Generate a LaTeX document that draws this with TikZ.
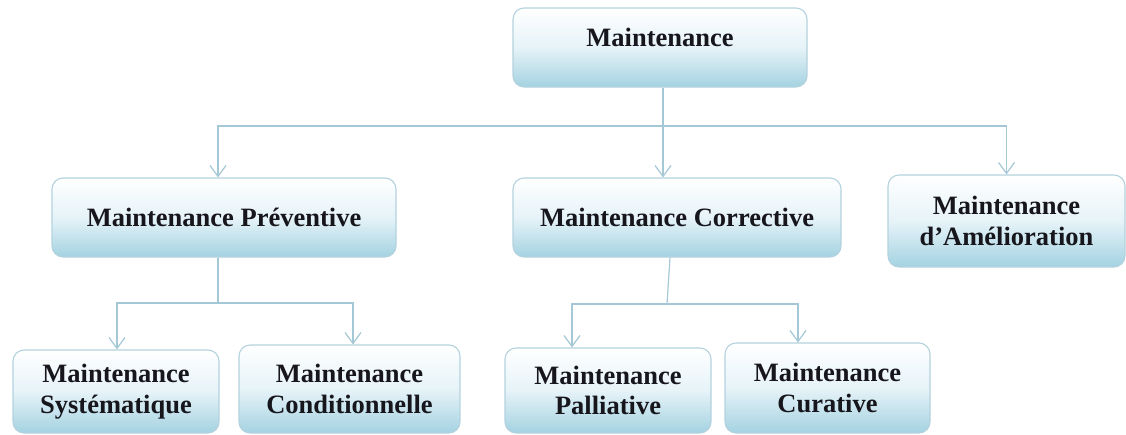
\documentclass[tikz,border=0pt]{standalone}
\usepackage{fontspec}
\setmainfont{Liberation Serif}
\usetikzlibrary{arrows.meta}
\definecolor{boxblue}{RGB}{164,210,225}
\definecolor{boxmid}{RGB}{230,243,248}
\definecolor{boxline}{RGB}{180,210,222}
\definecolor{linkc}{RGB}{165,200,214}
\definecolor{txt}{RGB}{22,22,28}
\begin{document}
\begin{tikzpicture}[x=1pt,y=-1pt,
  box/.style={draw=boxline, line width=1.1pt, rounded corners=11pt,
    top color=white, bottom color=boxblue, middle color=boxmid,
    inner sep=0pt, align=center, text=txt,
    font=\fontsize{26.5}{30.5}\selectfont\bfseries},
  link/.style={draw=linkc, line width=1.2pt},
  arr/.style={link, -{Straight Barb[length=11pt,width=16pt,line width=1.2pt]}}]
\useasboundingbox (0,0) rectangle (1126,434);
% nodes
\node[box, minimum width=294pt, minimum height=79pt, text depth=20pt] (m) at (660,47.5) {Maintenance};
\node[box, minimum width=344pt, minimum height=79pt] (p) at (224,217.5) {Maintenance Préventive};
\node[box, minimum width=328pt, minimum height=79pt] (c) at (677,217.5) {Maintenance Corrective};
\node[box, minimum width=237pt, minimum height=92pt] (a) at (1006.5,221) {Maintenance\\d’Amélioration};
\node[box, minimum width=206pt, minimum height=83pt] (s) at (116,391.5) {Maintenance\\Systématique};
\node[box, minimum width=221pt, minimum height=88pt] (cd) at (349.5,389) {Maintenance\\Conditionnelle};
\node[box, minimum width=206pt, minimum height=85pt] (pa) at (608,390.5) {Maintenance\\Palliative};
\node[box, minimum width=205pt, minimum height=90pt] (cu) at (827.5,388) {Maintenance\\Curative};
% junction coordinates
\coordinate (j0) at (663,126);
\coordinate (j1) at (218,303);
\coordinate (j2) at (667,304);
% level 1
\draw[link] (m.south -| j0) -- (j0);
\draw[arr] (j0) -| (p.north -| j1);
\draw[arr] (j0) -- (c.north -| j0);
\draw[arr] (j0) -| (a.north);
% preventive children
\draw[link] (p.south -| j1) -- (j1);
\draw[arr] (j1) -| (s.north -| 117,0);
\draw[arr] (j1) -| (cd.north -| 353,0);
% corrective children
\draw[link] (c.south -| 670,0) -- (j2);
\draw[arr] (j2) -| (pa.north -| 572,0);
\draw[arr] (j2) -| (cu.north -| 798,0);
\end{tikzpicture}
\end{document}
